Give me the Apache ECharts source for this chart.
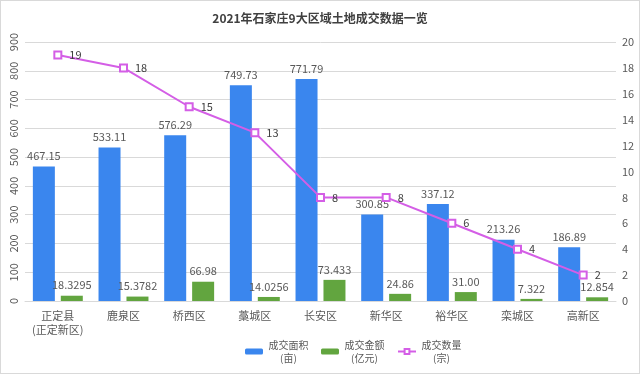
<!DOCTYPE html>
<html>
<head>
<meta charset="utf-8">
<script src="https://cdn.jsdelivr.net/npm/echarts@6/dist/echarts.min.js"></script>
<style>
html,body{margin:0;padding:0;background:#fff;}
#c{width:638px;height:372px;border:1px solid #d9d9d9;}
</style>
</head>
<body>
<div id="c"></div>
<script>
const categories = ['正定县\n(正定新区)', '鹿泉区', '桥西区', '藁城区', '长安区', '新华区', '裕华区', '栾城区', '高新区'];
const areaValues = [467.15, 533.11, 576.29, 749.73, 771.79, 300.85, 337.12, 213.26, 186.89];
const amountValues = [18.3295, 15.3782, 66.98, 14.0256, 73.433, 24.86, 31.00, 7.322, 12.854];
const amountLabels = ['18.3295', '15.3782', '66.98', '14.0256', '73.433', '24.86', '31.00', '7.322', '12.854'];
const countValues = [19, 18, 15, 13, 8, 8, 6, 4, 2];
const seriesNames = ['成交面积\n(亩)', '成交金额\n(亿元)', '成交数量\n(宗)'];

const FONT = '"Noto Sans CJK SC", "Microsoft YaHei", sans-serif';
const chart = echarts.init(document.getElementById('c'), null, {renderer: 'canvas'});
chart.setOption({
  animation: false,
  textStyle: {fontFamily: FONT},
  title: {
    text: '2021年石家庄9大区域土地成交数据一览',
    left: 'center', top: 6,
    textStyle: {fontSize: 12, fontWeight: 'bold', color: '#404040', fontFamily: FONT}
  },
  legend: {
    left: 239, top: 334,
    itemWidth: 18, itemHeight: 6, itemGap: 12,
    data: seriesNames,
    formatter: function (name) {
      const parts = name.split('\n');
      return '{a|' + parts[0] + '}\n{a|' + parts[1] + '}';
    },
    textStyle: {
      color: '#595959', fontSize: 10,
      rich: {a: {width: 41, align: 'center', fontSize: 10, color: '#595959', lineHeight: 13}}
    }
  },
  grid: {left: 24, right: 23, top: 41, bottom: 72, containLabel: false, outerBoundsMode: 'none'},
  xAxis: {
    type: 'category',
    data: categories,
    axisLine: {lineStyle: {color: '#d9d9d9'}},
    axisTick: {show: false},
    axisLabel: {color: '#595959', fontSize: 11, margin: 8, lineHeight: 14, interval: 0}
  },
  yAxis: [
    {
      type: 'value', min: 0, max: 900, interval: 100,
      axisLine: {show: false}, axisTick: {show: false},
      axisLabel: {color: '#595959', fontSize: 11, rotate: 90, margin: 6},
      splitLine: {lineStyle: {color: '#d9d9d9'}}
    },
    {
      type: 'value', min: 0, max: 20, interval: 2,
      axisLine: {show: false}, axisTick: {show: false},
      axisLabel: {color: '#595959', fontSize: 11, margin: 6},
      splitLine: {show: false}
    }
  ],
  series: [
    {
      name: seriesNames[0], type: 'bar', yAxisIndex: 0,
      data: areaValues, barWidth: 22, barGap: '27%',
      itemStyle: {color: '#3a86ee'},
      label: {show: true, position: 'top', distance: 5, color: '#595959', fontSize: 11}
    },
    {
      name: seriesNames[1], type: 'bar', yAxisIndex: 0,
      data: amountValues, barWidth: 22, barGap: '27%',
      itemStyle: {color: '#62a53f'},
      label: {show: true, position: 'top', distance: 5, color: '#595959', fontSize: 11,
        formatter: function (p) { return amountLabels[p.dataIndex]; }}
    },
    {
      name: seriesNames[2], type: 'line', yAxisIndex: 1,
      data: countValues,
      symbol: 'emptyRect', symbolSize: 7,
      itemStyle: {color: '#d45ee6', borderWidth: 1},
      lineStyle: {color: '#d45ee6', width: 2},
      label: {show: true, position: 'right', distance: 7, color: '#404040', fontSize: 11}
    }
  ]
});
</script>
</body>
</html>
